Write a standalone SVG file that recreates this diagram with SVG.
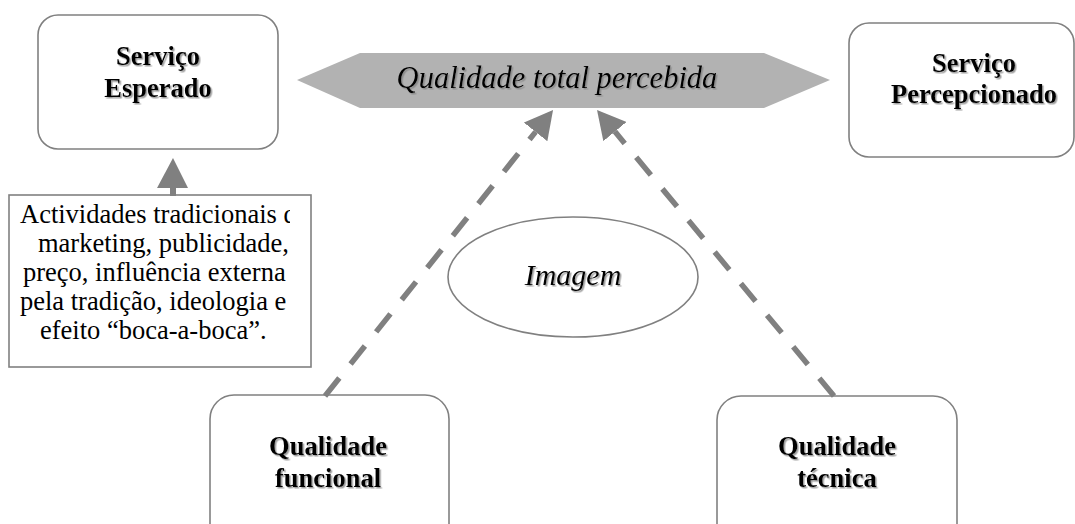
<svg xmlns="http://www.w3.org/2000/svg" width="1075" height="524" viewBox="0 0 1075 524">
  <style>
    .box { fill: #ffffff; stroke: #808080; stroke-width: 1.6; }
    .lbl { font-weight: bold; font-size: 26.5px; fill: #000; text-anchor: middle; }
    .ital { font-style: italic; fill: #000; text-anchor: middle; }
    .body { font-size: 26.5px; fill: #000; }
    .dash { fill: none; stroke: #808080; stroke-width: 5.5; stroke-dasharray: 23 18; }
  </style>
  <defs>
    <filter id="shadow" x="-10%" y="-20%" width="130%" height="150%">
      <feDropShadow dx="1.5" dy="1.5" stdDeviation="0.7" flood-color="#808080" flood-opacity="0.75"/>
    </filter>
    <marker id="head" markerUnits="userSpaceOnUse" viewBox="0 0 28 30" markerWidth="28" markerHeight="30" refX="0" refY="15" orient="auto">
      <path d="M0,0 L28,15 L0,30 z" fill="#808080"/>
    </marker>
    <clipPath id="clipText">
      <rect x="10" y="196" width="280" height="170"/>
    </clipPath>
  </defs>

  <g font-family="Liberation Serif, DejaVu Serif, serif">
  <g id="qualidade-total">
    <polygon points="297,80 360,53 764,53 830,80 764,108 360,108" fill="#b2b2b2"/>
    <text class="ital" x="557" y="88" font-size="30.5" filter="url(#shadow)">Qualidade total percebida</text>
  </g>

  <g id="servico-esperado">
    <rect class="box" x="38" y="15" width="240" height="134" rx="20" ry="20"/>
    <text class="lbl" x="158" y="65" filter="url(#shadow)">Serviço</text>
    <text class="lbl" x="158" y="97" filter="url(#shadow)">Esperado</text>
  </g>

  <g id="servico-percepcionado">
    <rect class="box" x="849" y="23" width="225" height="134" rx="20" ry="20"/>
    <text class="lbl" x="974" y="72" filter="url(#shadow)">Serviço</text>
    <text class="lbl" x="974" y="103" filter="url(#shadow)">Percepcionado</text>
  </g>

  <g id="actividades">
    <rect x="9" y="195" width="302" height="172" fill="#ffffff" stroke="#808080" stroke-width="1.6"/>
    <g clip-path="url(#clipText)">
      <text class="body" x="20" y="223">Actividades tradicionais d</text>
      <text class="body" x="38" y="252">marketing, publicidade,</text>
      <text class="body" x="23" y="281">preço, influência externa</text>
      <text class="body" x="20" y="310">pela tradição, ideologia e</text>
      <text class="body" x="40" y="339">efeito “boca-a-boca”.</text>
    </g>
  </g>

  <g id="imagem">
    <ellipse cx="573" cy="277" rx="125" ry="60" fill="#ffffff" stroke="#808080" stroke-width="1.6"/>
    <text class="ital" x="573" y="285" font-size="30" filter="url(#shadow)">Imagem</text>
  </g>

  <g id="qualidade-funcional">
    <rect class="box" x="210" y="395" width="239" height="160" rx="24" ry="24"/>
    <text class="lbl" x="328" y="455" filter="url(#shadow)">Qualidade</text>
    <text class="lbl" x="328" y="487" filter="url(#shadow)">funcional</text>
  </g>

  <g id="qualidade-tecnica">
    <rect class="box" x="717" y="396" width="240" height="160" rx="24" ry="24"/>
    <text class="lbl" x="837" y="455" filter="url(#shadow)">Qualidade</text>
    <text class="lbl" x="837" y="487" filter="url(#shadow)">técnica</text>
  </g>
  </g>

  <g id="connectors">
    <rect x="170" y="186" width="6" height="10" fill="#808080"/>
    <polygon points="157,188 188,188 173,158" fill="#808080"/>
    <path class="dash" d="M325,396 L535.6,131.9" marker-end="url(#head)"/>
    <path class="dash" d="M834,396 L614.9,131.6" marker-end="url(#head)"/>
  </g>
</svg>
